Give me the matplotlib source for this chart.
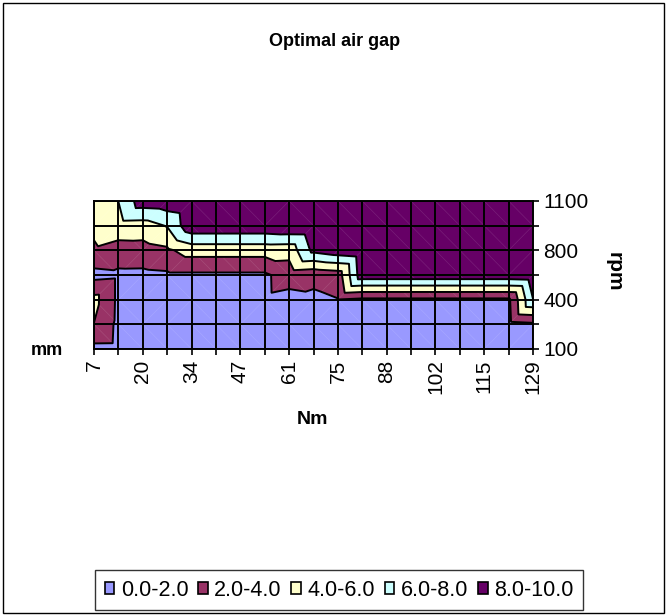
"""Optimal air gap over torque and speed, drawn as a top-view surface chart."""

import matplotlib

matplotlib.use("Agg")
import matplotlib.pyplot as plt
import matplotlib.tri as mtri
import numpy as np
from matplotlib.patches import Rectangle

plt.rcParams["font.family"] = ["Liberation Sans", "DejaVu Sans"]

TORQUE_NM = [7, 14, 20, 27, 34, 41, 47, 54, 61, 68, 75, 81, 88, 95, 102, 108, 115, 122, 129]
SPEED_RPM = [100, 250, 400, 600, 800, 950, 1100]

# optimal air gap (mm), one list per speed, one value per torque
GAP_100 = [1.43, 1.40, 1.10, 1.00, 1.00, 1.00, 1.00, 1.00, 1.00, 1.00,
           1.00, 1.00, 1.00, 1.00, 1.00, 1.00, 1.00, 1.10, 1.20]
GAP_250 = [3.95, 1.51, 1.30, 1.30, 1.30, 1.30, 1.30, 1.30, 1.20, 1.20,
           1.20, 1.20, 1.20, 1.20, 1.20, 1.20, 1.20, 1.34, 1.62]
GAP_400 = [4.62, 1.58, 1.50, 1.55, 1.60, 1.60, 1.60, 1.65, 1.32, 1.57,
           1.95, 1.60, 1.60, 1.60, 1.60, 1.60, 1.60, 1.60, 7.95]
GAP_600 = [1.35, 1.58, 1.55, 1.69, 1.68, 1.68, 1.68, 1.68, 2.90, 2.57,
           2.92, 9.30, 9.30, 9.30, 9.30, 9.30, 9.30, 9.30, 9.50]
GAP_800 = [3.76, 3.15, 3.22, 3.65, 4.84, 4.84, 4.84, 4.84, 4.75, 8.54,
           9.27, 9.70, 9.70, 9.70, 9.70, 9.70, 9.70, 9.70, 9.80]
GAP_950 = [4.35, 5.22, 5.12, 6.12, 9.49, 9.49, 9.49, 9.49, 9.75, 9.80,
           9.80, 9.80, 9.80, 9.80, 9.80, 9.80, 9.80, 9.80, 9.85]
GAP_1100 = [5.00, 6.02, 9.12, 9.31, 9.80, 9.80, 9.80, 9.80, 9.90, 9.90,
            9.90, 9.90, 9.90, 9.90, 9.90, 9.90, 9.90, 9.90, 9.90]

LEVELS = [0, 2, 4, 6, 8, 10]
BAND_LABELS = ["0.0-2.0", "2.0-4.0", "4.0-6.0", "6.0-8.0", "8.0-10.0"]
BAND_COLORS = ["#9999FF", "#993366", "#FFFFCC", "#CCFFFF", "#660066"]


def surface_triangles(z: np.ndarray) -> tuple:
    """Split each grid cell in two, along the diagonal through its highest corner."""
    ny, nx = z.shape
    gx, gy = np.meshgrid(np.arange(nx), np.arange(ny))
    tris, diags = [], []
    for j in range(ny - 1):
        for i in range(nx - 1):
            bl, br = j * nx + i, j * nx + i + 1
            tl, tr = (j + 1) * nx + i, (j + 1) * nx + i + 1
            corners = [z[j, i], z[j, i + 1], z[j + 1, i], z[j + 1, i + 1]]
            if int(np.argmax(corners)) in (0, 3):
                tris += [[bl, br, tr], [bl, tr, tl]]
                diags.append(((i, i + 1), (j, j + 1)))
            else:
                tris += [[bl, br, tl], [br, tr, tl]]
                diags.append(((i, i + 1), (j + 1, j)))
    tri = mtri.Triangulation(gx.ravel(), gy.ravel(), np.array(tris))
    return tri, diags


gap = np.array([GAP_100, GAP_250, GAP_400, GAP_600, GAP_800, GAP_950, GAP_1100])
tri, diags = surface_triangles(gap)

W, H = 669, 616
fig = plt.figure(figsize=(W / 100, H / 100), dpi=100)
ax = fig.add_axes([94 / W, 1 - 349 / H, (533 - 94) / W, (349 - 201) / H])

ax.tricontourf(tri, gap.ravel(), levels=LEVELS, colors=BAND_COLORS)
for xs, ys in diags:
    ax.plot(xs, ys, color="white", lw=0.5, alpha=0.12)
ax.tricontour(tri, gap.ravel(), levels=LEVELS[1:-1], colors="black", linewidths=1.4)

nx, ny = len(TORQUE_NM), len(SPEED_RPM)
ax.vlines(np.arange(nx), 0, ny - 1, colors="black", lw=1.4)
ax.hlines(np.arange(ny), 0, nx - 1, colors="black", lw=1.4)
ax.set_xlim(0, nx - 1)
ax.set_ylim(0, ny - 1)
for s in ax.spines.values():
    s.set_linewidth(1.4)

ax.set_xticks(range(nx))
ax.set_xticklabels([str(v) if i % 2 == 0 else "" for i, v in enumerate(TORQUE_NM)],
                   rotation=90, fontsize=15)
ax.yaxis.tick_right()
ax.set_yticks(range(ny))
ax.set_yticklabels([str(v) if i % 2 == 0 else "" for i, v in enumerate(SPEED_RPM)],
                   fontsize=15)
ax.tick_params(length=4.5, width=1.2, pad=3)

fig.text(335 / W, 1 - 41 / H, "Optimal air gap", ha="center", va="center",
         fontsize=13, fontweight="bold")
fig.text(313 / W, 1 - 420 / H, "Nm", ha="center", va="center",
         fontsize=14, fontweight="bold")
fig.text(47 / W, 1 - 350 / H, "mm", ha="center", va="center",
         fontsize=13, fontweight="bold")
fig.text(614 / W, 1 - 272 / H, "rpm", ha="center", va="center",
         fontsize=15, fontweight="bold", rotation=270)

handles = [Rectangle((0, 0), 1, 1, facecolor=c, edgecolor="black", lw=1.2)
           for c in BAND_COLORS]
leg = fig.legend(handles, BAND_LABELS, loc="center", ncol=5,
                 bbox_to_anchor=(339 / W, 1 - 590 / H), fontsize=15.5,
                 frameon=True, fancybox=False, handlelength=0.45, handleheight=0.45,
                 handletextpad=0.3, columnspacing=0.45, borderpad=0.45,
                 borderaxespad=0)
leg.get_frame().set_edgecolor("black")
leg.get_frame().set_linewidth(1.0)

fig.add_artist(Rectangle((3 / W, 3 / H), 661 / W, 610 / H, transform=fig.transFigure,
                         fill=False, edgecolor="black", lw=1.0))

fig.savefig("out.png", dpi=100)
